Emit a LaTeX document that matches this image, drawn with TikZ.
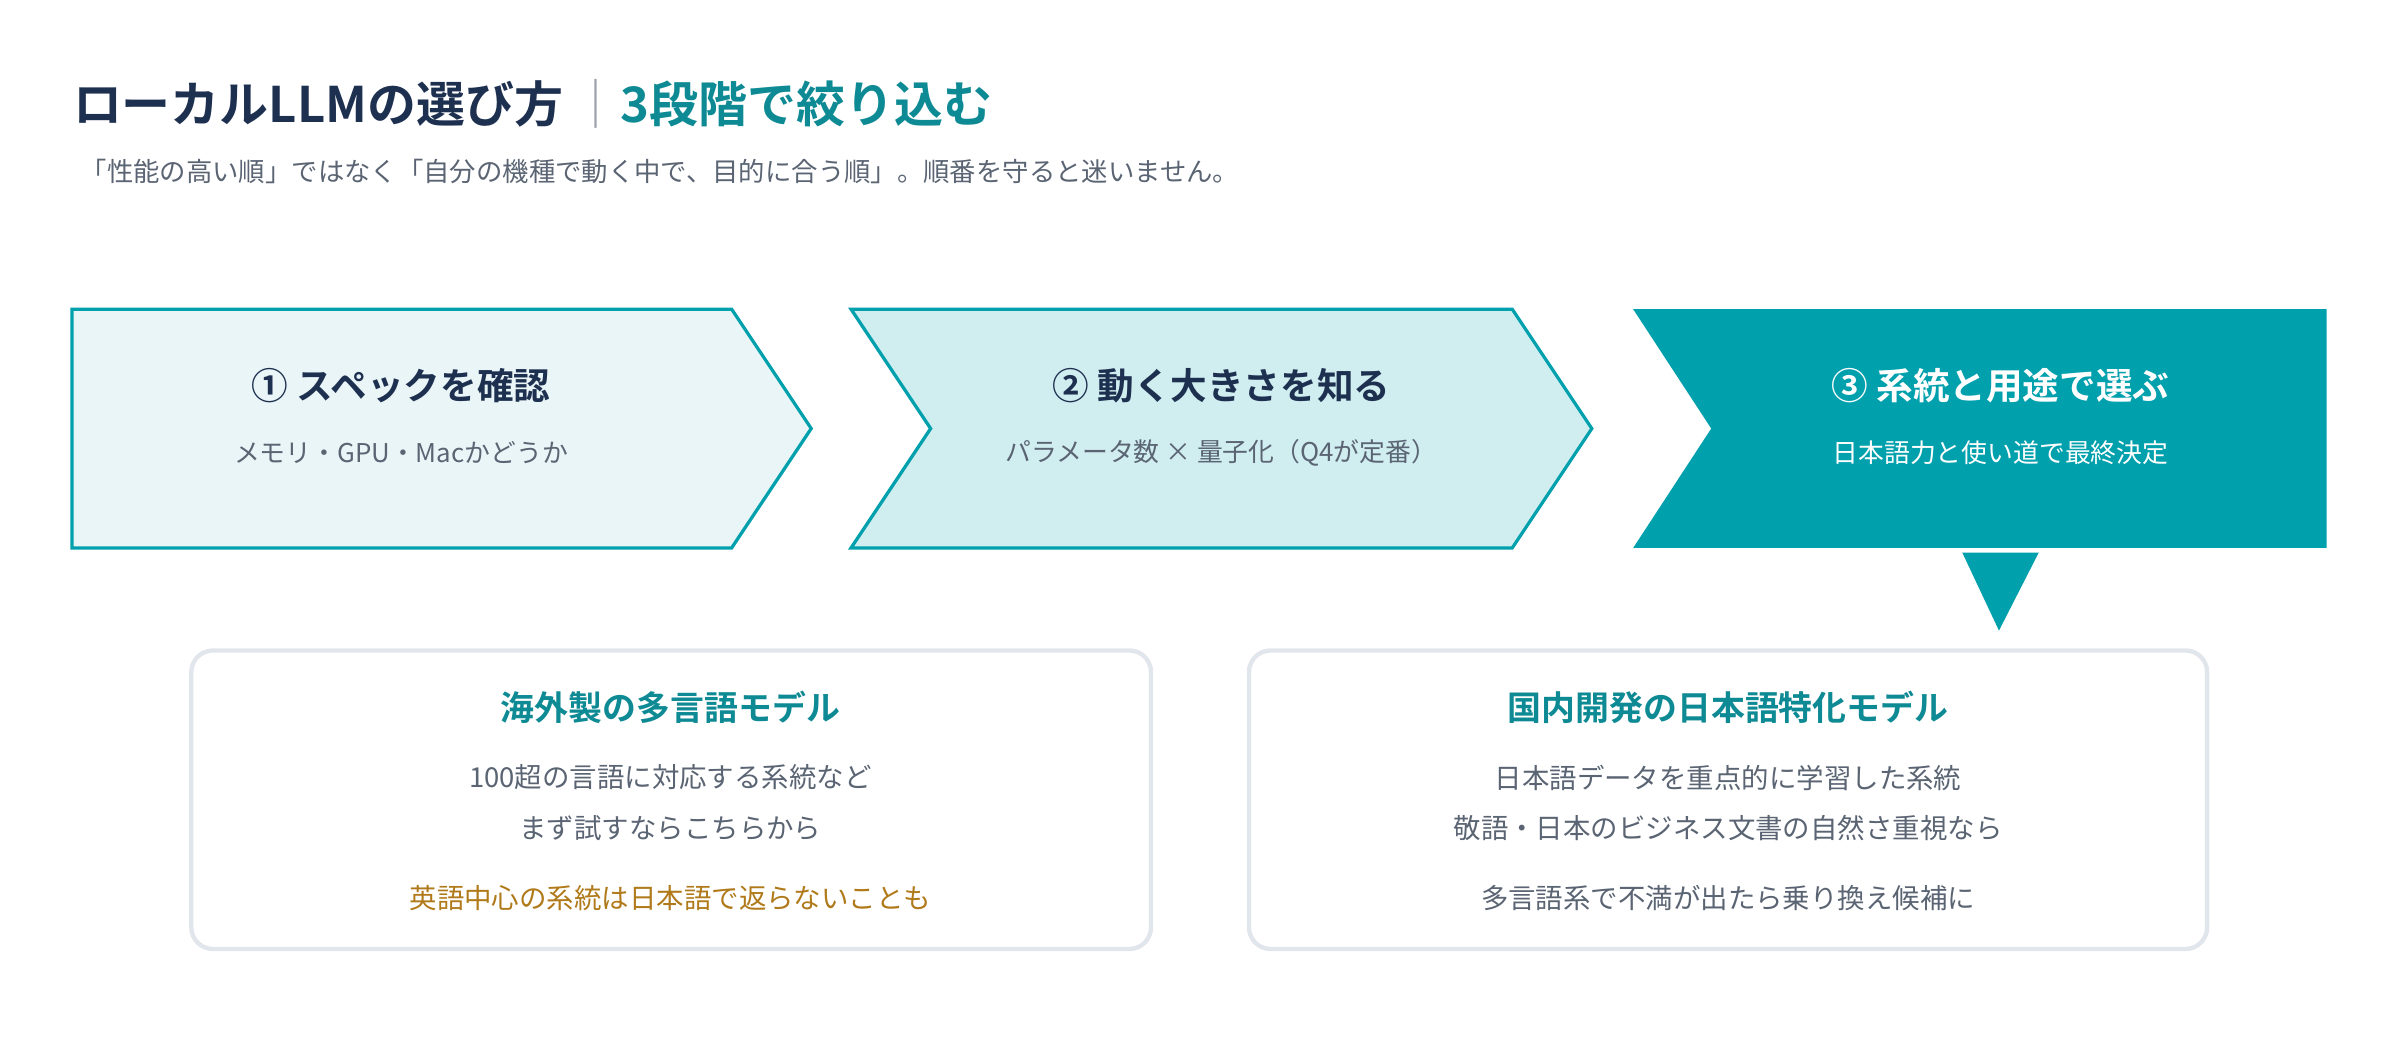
\documentclass[tikz,border=0pt]{standalone}
\usepackage{fontspec}
\setmainfont{Noto Sans CJK JP}[BoldFont={* Bold}]
\usetikzlibrary{positioning}
\definecolor{navy}{HTML}{1E3050}
\definecolor{teal}{HTML}{00A0AD}
\definecolor{tealtxt}{HTML}{0E8A94}
\definecolor{grey}{HTML}{5A6473}
\definecolor{ochre}{HTML}{B07A1A}
\definecolor{paleA}{HTML}{E9F5F7}
\definecolor{paleB}{HTML}{D0EDF0}
\definecolor{boxline}{HTML}{E1E5EC}
\begin{document}
\begin{tikzpicture}[x=0.01cm, y=-0.01cm,
  stage/.style = {draw=teal, line width=0.6pt},
  ttl/.style = {font=\fontsize{6.8}{8}\selectfont\bfseries, text=navy, inner sep=0},
  sub/.style = {font=\fontsize{4.8}{6}\selectfont, text=grey, inner sep=0},
  card/.style = {draw=boxline, line width=0.8pt, rounded corners=4pt, fill=white},
  ctitle/.style = {font=\fontsize{6.3}{8}\selectfont\bfseries, text=tealtxt, inner sep=0},
  cline/.style = {font=\fontsize{5.1}{6}\selectfont, text=grey, inner sep=0}]
  \useasboundingbox (0,0) rectangle (1568,680);
  % heading
  \node[anchor=west, inner sep=0, font=\fontsize{9.1}{11}\selectfont\bfseries] (head) at (47,68)
    {\textcolor{navy}{ローカルLLMの選び方}\textcolor{grey!60}{\,｜}\textcolor{tealtxt}{3段階で絞り込む}};
  \node[anchor=west, inner sep=0, font=\fontsize{4.9}{6}\selectfont, text=grey] (lead) at (52,112)
    {「性能の高い順」ではなく「自分の機種で動く中で、目的に合う順」。順番を守ると迷いません。};
  % steps
  \draw[stage, fill=paleA] (47,202) -- (478,202) -- (530,280) -- (478,358) -- (47,358) -- cycle;
  \draw[stage, fill=paleB] (556,202) -- (988,202) -- (1040,280) -- (988,358) -- (556,358) -- (608,280) -- cycle;
  \fill[teal] (1067,202) -- (1520,202) -- (1520,358) -- (1067,358) -- (1118,280) -- cycle;
  \fill[teal] (1282,361) -- (1332,361) -- (1306,412) -- cycle;
  \node[ttl] (s1) at (262,252) {① スペックを確認};
  \node[sub] (s1b) at (262,296) {メモリ・GPU・Macかどうか};
  \node[ttl] (s2) at (798,252) {② 動く大きさを知る};
  \node[sub] (s2b) at (798,296) {パラメータ数 × 量子化（Q4が定番）};
  \node[ttl, text=white] (s3) at (1307,252) {③ 系統と用途で選ぶ};
  \node[sub, text=white] (s3b) at (1307,296) {日本語力と使い道で最終決定};
  % cards
  \draw[card] (125,425) rectangle (752,620);
  \draw[card] (816,425) rectangle (1442,620);
  \node[ctitle] (c1) at (438,462) {海外製の多言語モデル};
  \node[cline] (c1a) at (438,508) {100超の言語に対応する系統など};
  \node[cline] (c1b) at (438,541) {まず試すならこちらから};
  \node[cline, text=ochre] (c1c) at (438,587) {英語中心の系統は日本語で返らないことも};
  \node[ctitle] (c2) at (1129,462) {国内開発の日本語特化モデル};
  \node[cline] (c2a) at (1129,508) {日本語データを重点的に学習した系統};
  \node[cline] (c2b) at (1129,541) {敬語・日本のビジネス文書の自然さ重視なら};
  \node[cline] (c2c) at (1129,587) {多言語系で不満が出たら乗り換え候補に};
\end{tikzpicture}
\end{document}
